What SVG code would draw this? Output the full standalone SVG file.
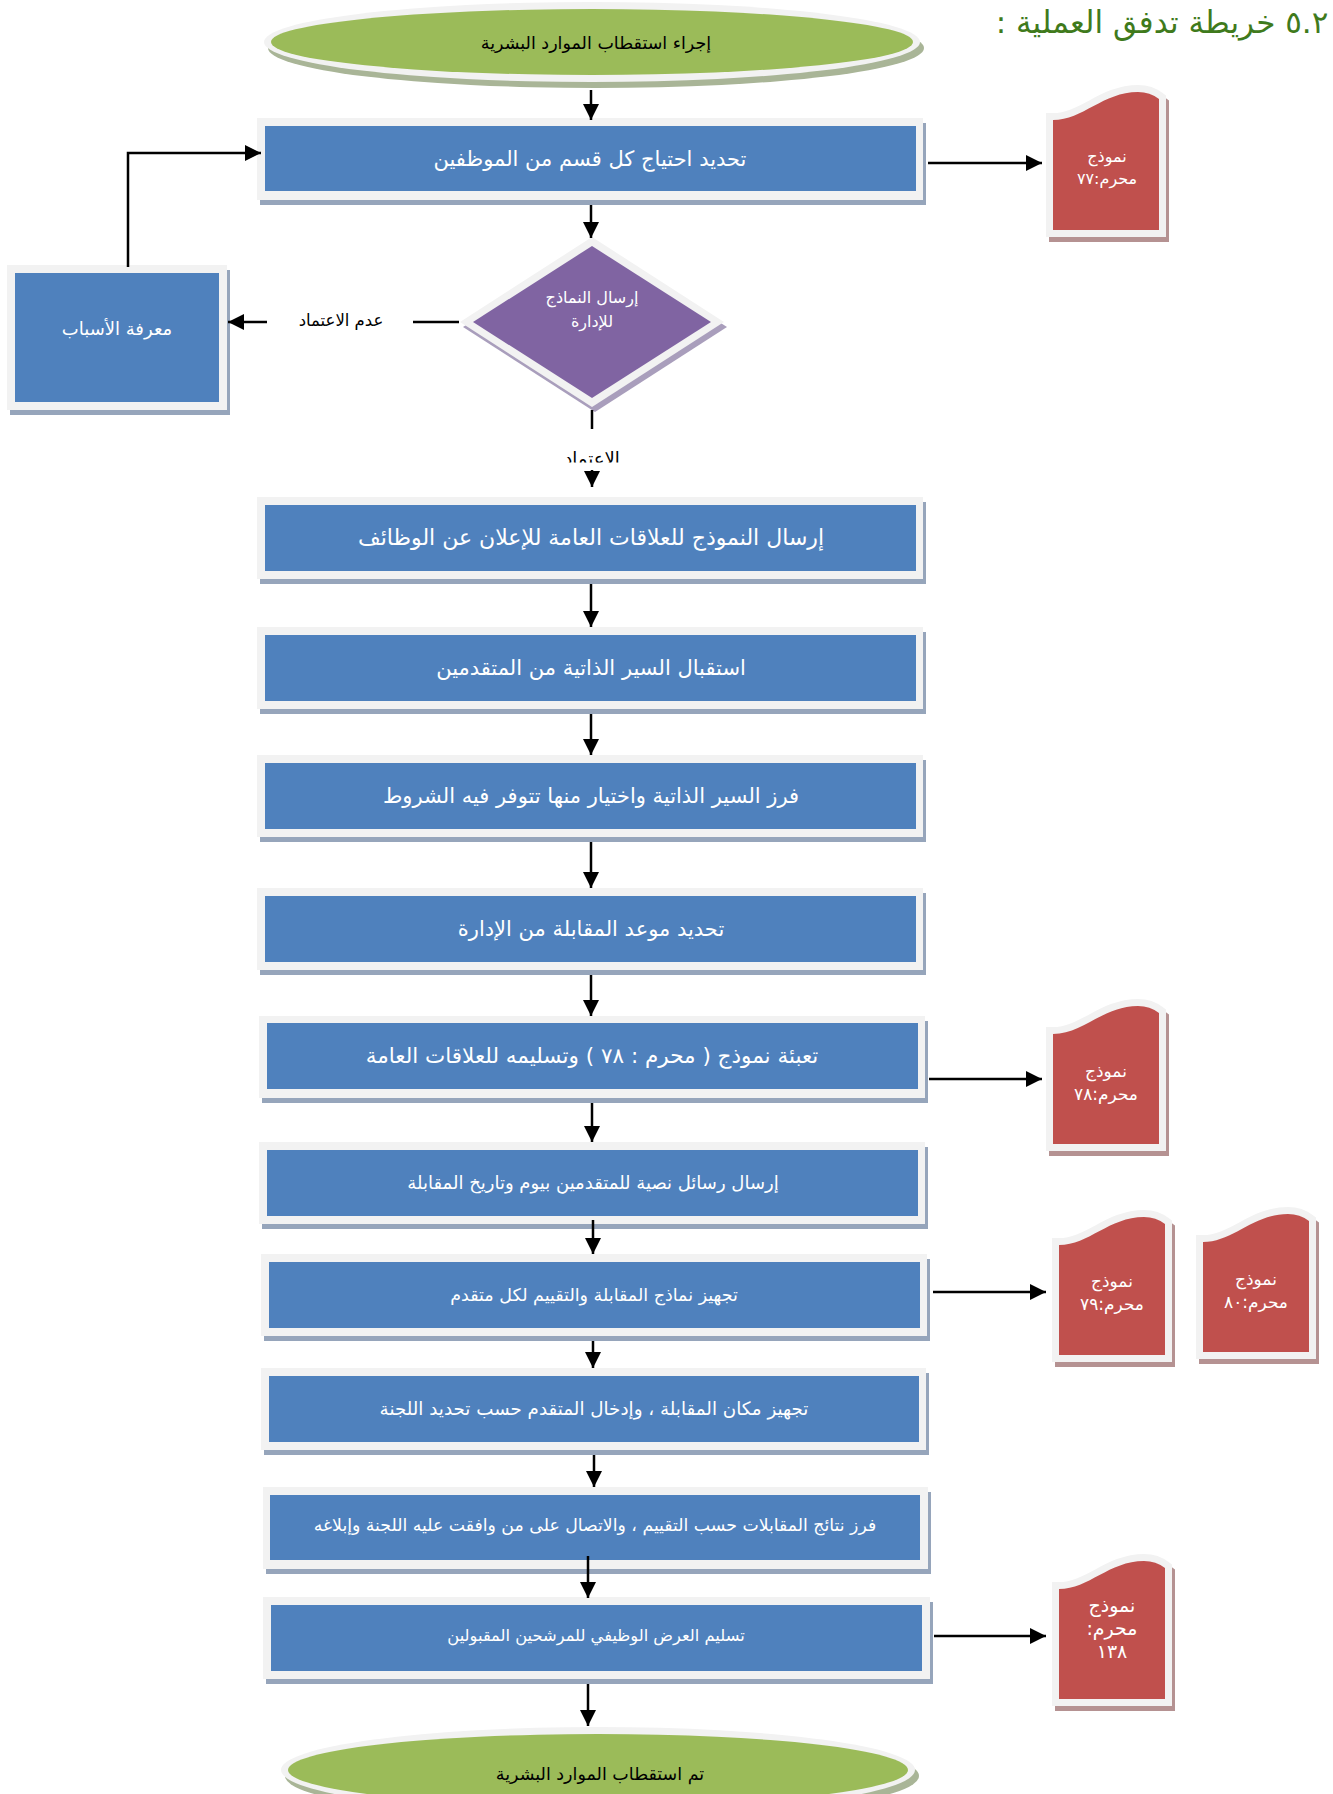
<svg xmlns="http://www.w3.org/2000/svg" xmlns:xlink="http://www.w3.org/1999/xlink" width="1333" height="1794" viewBox="0 0 1333 1794">
<style>
.ar{font-family:"DejaVu Sans",sans-serif;direction:rtl;text-anchor:middle}
.w{fill:#ffffff}
.k{fill:#000000}
.sh{fill:#96a5bb}
.bo{fill:#f2f2f2}
.bi{fill:#4f81bd}
.doc{fill:#c0504d;stroke:#f2f2f2;stroke-width:14;paint-order:stroke;stroke-linejoin:miter}
.docsh{fill:#b59292;stroke:#b59292;stroke-width:14;stroke-linejoin:miter}
.con{fill:none;stroke:#000;stroke-width:2.5}
</style>
<defs>
<marker id="ah" markerUnits="userSpaceOnUse" markerWidth="17" markerHeight="16" refX="16" refY="8" orient="auto">
<path d="M0,0 L16,8 L0,16 Z" fill="#000"/>
</marker>
<path id="docp" d="M0,28 C30,28 50,0 85,0 Q97,0 106,7 V138 H0 Z"/>
<clipPath id="clipA"><rect x="540" y="430" width="110" height="32.5"/></clipPath>
</defs>
<rect width="1333" height="1794" fill="#ffffff"/>

<text class="ar" x="1162" y="33" font-size="31" fill="#3f7a1c">٥.٢ خريطة تدفق العملية :</text>

<g id="start">
<ellipse cx="596" cy="48" rx="328" ry="40" fill="#a9b597"/>
<ellipse cx="592" cy="42" rx="328" ry="40" fill="#f2f2f2"/>
<ellipse cx="592" cy="42" rx="321" ry="33" fill="#9bbb59"/>
<text class="ar k" x="596" y="49" font-size="17.5">إجراء استقطاب الموارد البشرية</text>
</g>

<g id="n1">
<rect class="sh" x="260" y="123" width="666" height="82"/>
<rect class="bo" x="257" y="118" width="666" height="82"/>
<rect class="bi" x="265" y="126" width="651" height="65"/>
<text class="ar w" x="590" y="166" font-size="21">تحديد احتياج كل قسم من الموظفين</text>
</g>

<g id="doc77">
<use xlink:href="#docp" class="docsh" transform="translate(1056,97)"/>
<use xlink:href="#docp" class="doc" transform="translate(1053,92)"/>
<text class="ar w" x="1107" y="162" font-size="16">نموذج</text>
<text class="ar w" x="1107" y="184" font-size="16">محرم:٧٧</text>
</g>

<g id="decision">
<polygon points="595,242 727,327 595,412 463,327" fill="#a99ebc"/>
<polygon points="592,237 724,322 592,407 460,322" fill="#f2f2f2"/>
<polygon points="592,246 711,322 592,398 473,322" fill="#8064a2"/>
<text class="ar w" x="592" y="303" font-size="16">إرسال النماذج</text>
<text class="ar w" x="592" y="327" font-size="16">للإدارة</text>
</g>

<g id="reasons">
<rect class="sh" x="10" y="270" width="220" height="145"/>
<rect class="bo" x="7" y="265" width="220" height="145"/>
<rect class="bi" x="15" y="273" width="204" height="129"/>
<text class="ar w" x="117" y="335" font-size="18">معرفة الأسباب</text>
</g>

<g id="n2">
<rect class="sh" x="260" y="502" width="666" height="82"/>
<rect class="bo" x="257" y="497" width="666" height="82"/>
<rect class="bi" x="265" y="505" width="651" height="66"/>
<text class="ar w" x="591" y="545" font-size="22">إرسال النموذج للعلاقات العامة للإعلان عن الوظائف</text>
</g>

<g id="n3">
<rect class="sh" x="260" y="632" width="666" height="82"/>
<rect class="bo" x="257" y="627" width="666" height="82"/>
<rect class="bi" x="265" y="635" width="651" height="66"/>
<text class="ar w" x="591" y="675" font-size="21">استقبال السير الذاتية من المتقدمين</text>
</g>

<g id="n4">
<rect class="sh" x="260" y="760" width="666" height="82"/>
<rect class="bo" x="257" y="755" width="666" height="82"/>
<rect class="bi" x="265" y="763" width="651" height="66"/>
<text class="ar w" x="591" y="803" font-size="21">فرز السير الذاتية واختيار منها تتوفر فيه الشروط</text>
</g>

<g id="n5">
<rect class="sh" x="260" y="893" width="666" height="82"/>
<rect class="bo" x="257" y="888" width="666" height="82"/>
<rect class="bi" x="265" y="896" width="651" height="66"/>
<text class="ar w" x="591" y="936" font-size="21">تحديد موعد المقابلة من الإدارة</text>
</g>

<g id="n6">
<rect class="sh" x="262" y="1021" width="666" height="82"/>
<rect class="bo" x="259" y="1016" width="666" height="82"/>
<rect class="bi" x="267" y="1023" width="651" height="66"/>
<text class="ar w" x="592" y="1063" font-size="21.5">تعبئة نموذج ( محرم : ٧٨ ) وتسليمه للعلاقات العامة</text>
</g>

<g id="doc78">
<use xlink:href="#docp" class="docsh" transform="translate(1056,1011)"/>
<use xlink:href="#docp" class="doc" transform="translate(1053,1006)"/>
<text class="ar w" x="1106" y="1077" font-size="17">نموذج</text>
<text class="ar w" x="1106" y="1100" font-size="17">محرم:٧٨</text>
</g>

<g id="n7">
<rect class="sh" x="262" y="1147" width="666" height="82"/>
<rect class="bo" x="259" y="1142" width="666" height="82"/>
<rect class="bi" x="267" y="1150" width="651" height="66"/>
<text class="ar w" x="593" y="1189" font-size="18">إرسال رسائل نصية للمتقدمين بيوم وتاريخ المقابلة</text>
</g>

<g id="n8">
<rect class="sh" x="264" y="1259" width="666" height="82"/>
<rect class="bo" x="261" y="1254" width="666" height="82"/>
<rect class="bi" x="269" y="1262" width="651" height="66"/>
<text class="ar w" x="594" y="1301" font-size="17.5">تجهيز نماذج المقابلة والتقييم لكل متقدم</text>
</g>

<g id="doc79">
<use xlink:href="#docp" class="docsh" transform="translate(1062,1222)"/>
<use xlink:href="#docp" class="doc" transform="translate(1059,1217)"/>
<text class="ar w" x="1112" y="1287" font-size="17">نموذج</text>
<text class="ar w" x="1112" y="1310" font-size="17">محرم:٧٩</text>
</g>

<g id="doc80">
<use xlink:href="#docp" class="docsh" transform="translate(1206,1219)"/>
<use xlink:href="#docp" class="doc" transform="translate(1203,1214)"/>
<text class="ar w" x="1256" y="1285" font-size="17">نموذج</text>
<text class="ar w" x="1256" y="1308" font-size="17">محرم:٨٠</text>
</g>

<g id="n9">
<rect class="sh" x="264" y="1373" width="665" height="82"/>
<rect class="bo" x="261" y="1368" width="665" height="82"/>
<rect class="bi" x="269" y="1376" width="650" height="66"/>
<text class="ar w" x="594" y="1415" font-size="18.3">تجهيز مكان المقابلة ، وإدخال المتقدم حسب تحديد اللجنة</text>
</g>

<g id="n10">
<rect class="sh" x="266" y="1492" width="665" height="82"/>
<rect class="bo" x="263" y="1487" width="665" height="82"/>
<rect class="bi" x="270" y="1495" width="650" height="65"/>
<text class="ar w" x="595" y="1531" font-size="17.3">فرز نتائج المقابلات حسب التقييم ، والاتصال على من وافقت عليه اللجنة وإبلاغه</text>
</g>

<g id="n11">
<rect class="sh" x="266" y="1602" width="667" height="82"/>
<rect class="bo" x="263" y="1597" width="667" height="82"/>
<rect class="bi" x="271" y="1605" width="651" height="66"/>
<text class="ar w" x="596" y="1641" font-size="16.3">تسليم العرض الوظيفي للمرشحين المقبولين</text>
</g>

<g id="doc138">
<use xlink:href="#docp" class="docsh" transform="translate(1062,1566)"/>
<use xlink:href="#docp" class="doc" transform="translate(1059,1561)"/>
<text class="ar w" x="1112" y="1612" font-size="19">نموذج</text>
<text class="ar w" x="1112" y="1635" font-size="19">محرم:</text>
<text class="ar w" x="1112" y="1658" font-size="19">١٣٨</text>
</g>

<g id="end">
<ellipse cx="602" cy="1776" rx="317" ry="43" fill="#a9b597"/>
<ellipse cx="598" cy="1770" rx="317" ry="43" fill="#f2f2f2"/>
<ellipse cx="598" cy="1770" rx="310" ry="36" fill="#9bbb59"/>
<text class="ar k" x="600" y="1780" font-size="17.5">تم استقطاب الموارد البشرية</text>
</g>

<g id="labels">
<text class="ar k" x="341" y="326" font-size="16.5">عدم الاعتماد</text>
<g clip-path="url(#clipA)"><text class="ar k" x="592" y="465" font-size="18">الاعتماد</text></g>
</g>

<g id="connectors">
<path class="con" d="M591,90 V120" marker-end="url(#ah)"/>
<path class="con" d="M591,205 V238" marker-end="url(#ah)"/>
<path class="con" d="M928,163 H1042" marker-end="url(#ah)"/>
<path class="con" d="M459,322 H413"/>
<path class="con" d="M267,322 H228" marker-end="url(#ah)"/>
<path class="con" d="M128,267 V153 H261" marker-end="url(#ah)"/>
<path class="con" d="M592,410 V429"/>
<path class="con" d="M592,470 V487" marker-end="url(#ah)"/>
<path class="con" d="M591,584 V627" marker-end="url(#ah)"/>
<path class="con" d="M591,714 V755" marker-end="url(#ah)"/>
<path class="con" d="M591,842 V888" marker-end="url(#ah)"/>
<path class="con" d="M591,975 V1016" marker-end="url(#ah)"/>
<path class="con" d="M592,1103 V1142" marker-end="url(#ah)"/>
<path class="con" d="M929,1079 H1042" marker-end="url(#ah)"/>
<path class="con" d="M593,1220 V1254" marker-end="url(#ah)"/>
<path class="con" d="M933,1292 H1046" marker-end="url(#ah)"/>
<path class="con" d="M593,1341 V1368" marker-end="url(#ah)"/>
<path class="con" d="M594,1455 V1487" marker-end="url(#ah)"/>
<path class="con" d="M588,1556 V1598" marker-end="url(#ah)"/>
<path class="con" d="M934,1636 H1046" marker-end="url(#ah)"/>
<path class="con" d="M588,1684 V1726" marker-end="url(#ah)"/>
</g>
</svg>
